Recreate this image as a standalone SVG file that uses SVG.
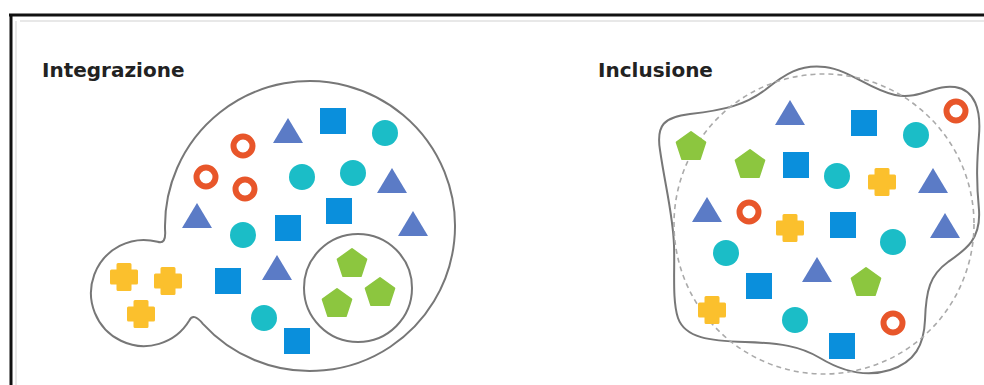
<svg xmlns="http://www.w3.org/2000/svg" xmlns:xlink="http://www.w3.org/1999/xlink" width="984" height="385" viewBox="0 0 984 385">
<style>
.title{font-family:"DejaVu Sans","Liberation Sans",sans-serif;font-weight:bold;font-size:20px;fill:#222}
.outline{fill:#fff;stroke:#777;stroke-width:2}
.dash{fill:none;stroke:#aaa;stroke-width:1.6;stroke-dasharray:5 4}
.tri{fill:#5b7bc6}
.sq{fill:#0a8fdc}
.dot{fill:#1bbdc7}
.ring{fill:#fff;stroke:#e8562a;stroke-width:6}
.cross{fill:#fbc02d;stroke:#fbc02d;stroke-width:3;stroke-linejoin:round}
.pent{fill:#8cc63f;stroke:#8cc63f;stroke-width:2;stroke-linejoin:round}
</style>
<defs>
<polygon id="tri" class="tri" points="0,-13 15,12 -15,12"/>
<rect id="sq" class="sq" x="-13" y="-13" width="26" height="26"/>
<circle id="dot" class="dot" r="13"/>
<circle id="ring" class="ring" r="9.5"/>
<path id="cross" class="cross" d="M-6,-12.5h12v6.5h6.5v12h-6.5v6.5h-12v-6.5h-6.5v-12h6.5z"/>
<polygon id="pent" class="pent" points="0,-15 14.3,-4.6 8.8,12.1 -8.8,12.1 -14.3,-4.6"/>
</defs>
<rect width="984" height="385" fill="#fff"/>
<g id="frame">
<line x1="20" y1="21" x2="984" y2="21" stroke="#e8e8e8" stroke-width="2"/>
<line x1="16" y1="21" x2="16" y2="385" stroke="#e8e8e8" stroke-width="2"/>
<line x1="9" y1="15" x2="984" y2="15" stroke="#111" stroke-width="3"/>
<line x1="11" y1="14" x2="11" y2="385" stroke="#111" stroke-width="3"/>
</g>

<g id="integrazione">
<text class="title" x="42" y="77">Integrazione</text>
<path class="outline" d="M165.05,229.8 A145,145 0 1,1 202.9,323.8 Q193.3,312.1 189.3,320.5 A53,53 0 1,1 157.6,241.8 Q166.3,244.9 165.05,229.8 Z"/>
<circle class="outline" cx="358" cy="288" r="54"/>
<use href="#tri" x="288" y="131"/>
<use href="#sq" x="333" y="121"/>
<use href="#dot" x="385" y="133"/>
<use href="#ring" x="243" y="146"/>
<use href="#ring" x="206" y="177"/>
<use href="#ring" x="245" y="189"/>
<use href="#dot" x="302" y="177"/>
<use href="#dot" x="353" y="173"/>
<use href="#tri" x="392" y="181"/>
<use href="#sq" x="339" y="211"/>
<use href="#tri" x="197" y="216"/>
<use href="#dot" x="243" y="235"/>
<use href="#sq" x="288" y="228"/>
<use href="#tri" x="413" y="224"/>
<use href="#tri" x="277" y="268"/>
<use href="#sq" x="228" y="281"/>
<use href="#dot" x="264" y="318"/>
<use href="#sq" x="297" y="341"/>
<use href="#cross" x="124" y="277"/>
<use href="#cross" x="168" y="281"/>
<use href="#cross" x="141" y="314"/>
<use href="#pent" x="352" y="264"/>
<use href="#pent" x="380" y="293"/>
<use href="#pent" x="337" y="304"/>
</g>

<g id="inclusione">
<text class="title" x="598" y="77">Inclusione</text>
<path class="outline" stroke-width="2.4" d="M660,150 C656,125 664,117 690,114 C725,110 745,105 765,90 C785,74 800,64 825,67 C850,70 870,90 895,95 S935,84 955,87 C975,90 981,110 979,135 C977,160 976,180 979,210 C981,240 965,250 948,262 C930,275 926,290 925,320 C924,345 915,362 890,370 C865,378 840,370 820,358 C800,346 780,343 745,342 C710,341 685,338 678,318 C672,300 675,270 674,245 C673,215 665,185 660,150 Z"/>
<circle class="dash" cx="824" cy="224" r="150"/>
<use href="#pent" x="691" y="147"/>
<use href="#tri" x="790" y="113"/>
<use href="#sq" x="864" y="123"/>
<use href="#dot" x="916" y="135"/>
<use href="#ring" x="956" y="111"/>
<use href="#pent" x="750" y="165"/>
<use href="#sq" x="796" y="165"/>
<use href="#dot" x="837" y="176"/>
<use href="#cross" x="882" y="182"/>
<use href="#tri" x="933" y="181"/>
<use href="#tri" x="707" y="210"/>
<use href="#ring" x="749" y="212"/>
<use href="#cross" x="790" y="228"/>
<use href="#sq" x="843" y="225"/>
<use href="#dot" x="893" y="242"/>
<use href="#tri" x="945" y="226"/>
<use href="#dot" x="726" y="253"/>
<use href="#tri" x="817" y="270"/>
<use href="#sq" x="759" y="286"/>
<use href="#pent" x="866" y="283"/>
<use href="#cross" x="712" y="310"/>
<use href="#dot" x="795" y="320"/>
<use href="#ring" x="893" y="323"/>
<use href="#sq" x="842" y="346"/>
</g>
</svg>
